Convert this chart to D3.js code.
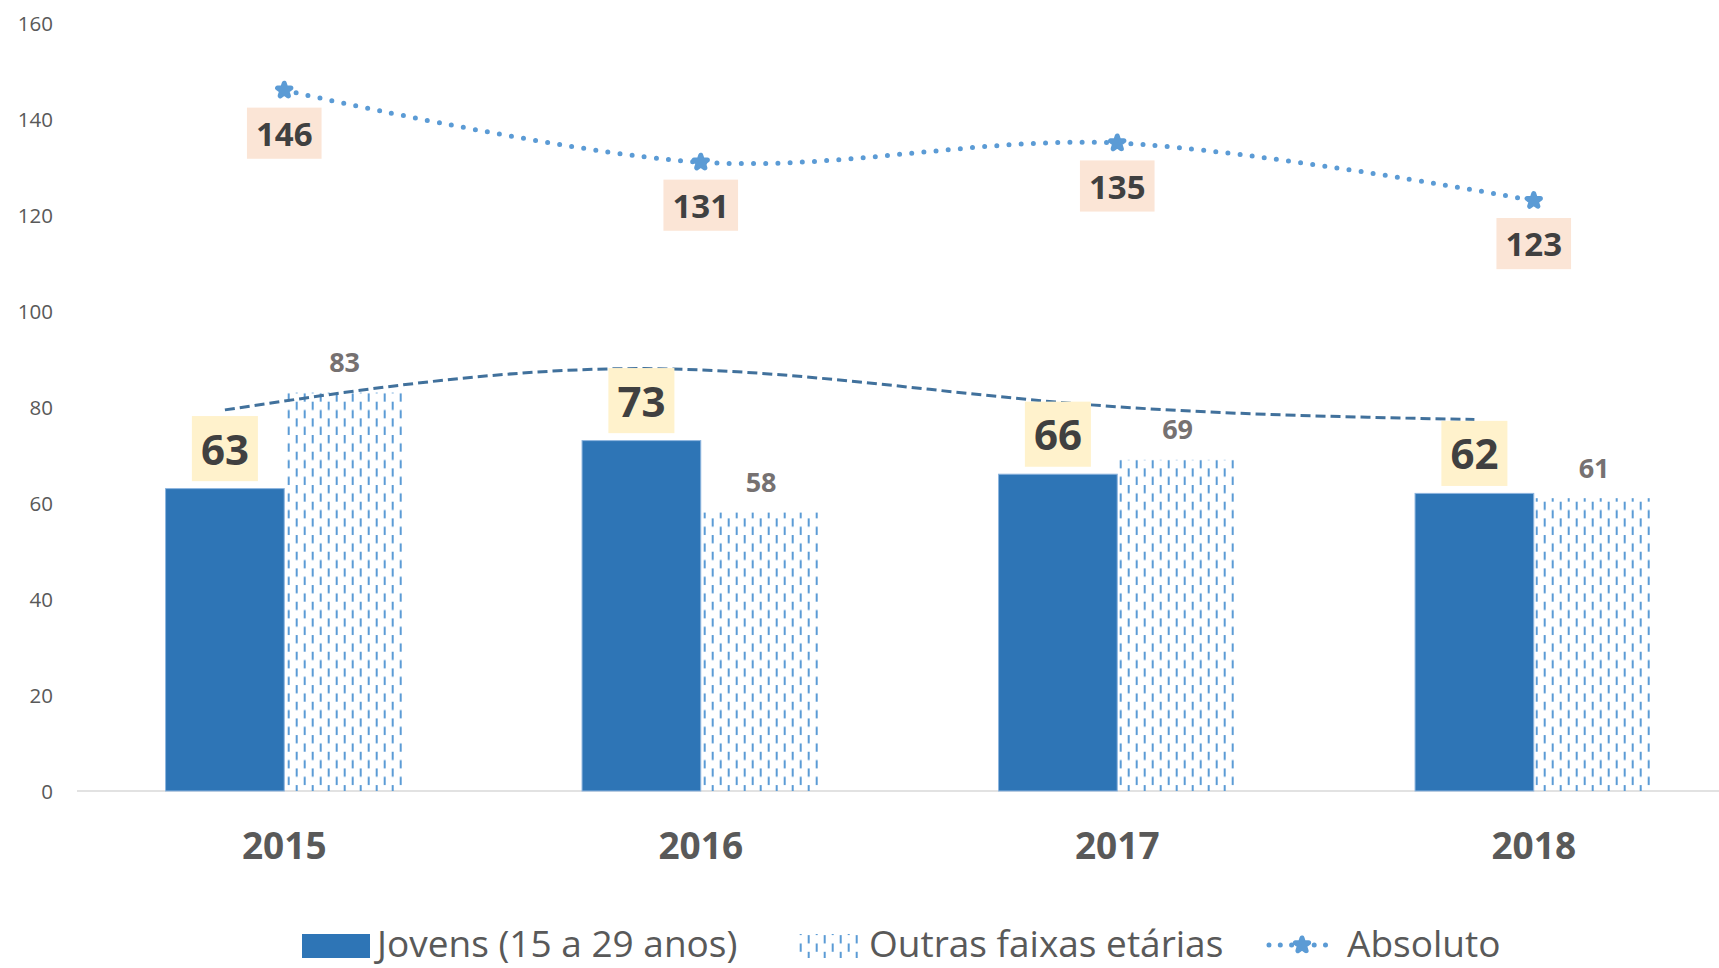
<!DOCTYPE html>
<html>
<head>
<meta charset="utf-8">
<script src="https://cdn.jsdelivr.net/npm/d3@7"></script>
<style>
  html, body { margin: 0; padding: 0; background: #ffffff; }
  svg { display: block; font-family: "Open Sans", "Noto Sans", sans-serif; }
</style>
</head>
<body>
<svg id="chart" width="1719" height="968"></svg>
<script>
// ---------- data ----------
const years = ["2015", "2016", "2017", "2018"];
const jovens = [63, 73, 66, 62];
const outras = [83, 58, 69, 61];
const absoluto = [146, 131, 135, 123];
const tendencia = [79.4, 88, 81, 77.4];
const yTicks = [0, 20, 40, 60, 80, 100, 120, 140, 160];
const seriesNames = ["Jovens (15 a 29 anos)", "Outras faixas etárias", "Absoluto"];

// ---------- setup ----------
const W = 1719, H = 968;
const svg = d3.select("#chart");
const defs = svg.append("defs");

const pat = defs.append("pattern")
  .attr("id", "dashV")
  .attr("patternUnits", "userSpaceOnUse")
  .attr("width", 16).attr("height", 16.67)
  .attr("x", 7.7).attr("y", 1.6);
pat.append("rect").attr("x", 0).attr("y", 0).attr("width", 2).attr("height", 8.3).attr("fill", "#5B9BD5");
pat.append("rect").attr("x", 8).attr("y", 8.33).attr("width", 2).attr("height", 8.3).attr("fill", "#5B9BD5");

const x = d3.scaleBand().domain(years).range([76, 1742]).paddingInner(0).paddingOuter(0);
const y = d3.scaleLinear().domain([0, 160]).range([791, 23]);
const bw = x.bandwidth();
const barW = bw * 0.285;
const cx = d => x(d) + bw / 2;

// ---------- y axis ----------
const yAxis = svg.append("g")
  .attr("transform", "translate(53,0)")
  .call(d3.axisLeft(y).tickValues(yTicks).tickSize(0).tickPadding(0));
yAxis.select(".domain").remove();
yAxis.selectAll("text")
  .attr("fill", "#595959")
  .style("font-family", "'Open Sans', sans-serif")
  .style("font-size", "20.5px")
  .attr("dy", "0.36em");

// ---------- x axis ----------
svg.append("line")
  .attr("x1", 77).attr("x2", W)
  .attr("y1", y(0)).attr("y2", y(0))
  .attr("stroke", "#D9D9D9").attr("stroke-width", 1.5);

const xAxis = svg.append("g")
  .attr("transform", `translate(0,${y(0)})`)
  .call(d3.axisBottom(x).tickSize(0));
xAxis.select(".domain").remove();
xAxis.selectAll("text")
  .attr("y", 68).attr("dy", 0)
  .attr("fill", "#595959")
  .style("font-family", "'Open Sans', sans-serif")
  .style("font-size", "37px")
  .style("font-weight", "700");

// ---------- bars ----------
svg.append("g").selectAll("rect")
  .data(years)
  .join("rect")
  .attr("x", (d) => cx(d) - barW)
  .attr("y", (d, i) => y(jovens[i]))
  .attr("width", barW)
  .attr("height", (d, i) => y(0) - y(jovens[i]))
  .attr("fill", "#2E75B6")
  .attr("stroke", "#8DB4DE")
  .attr("stroke-width", 1);

svg.append("g").selectAll("rect")
  .data(years)
  .join("rect")
  .attr("x", (d) => cx(d) + 1.5)
  .attr("y", (d, i) => y(outras[i]))
  .attr("width", barW - 1)
  .attr("height", (d, i) => y(0) - y(outras[i]))
  .attr("fill", "url(#dashV)");

// ---------- trend (dashed) ----------
svg.append("path")
  .datum(tendencia)
  .attr("d", d3.line()
    .x((d, i) => cx(years[i]) - barW / 2)
    .y(d => y(d))
    .curve(d3.curveNatural))
  .attr("fill", "none")
  .attr("stroke", "#41719C")
  .attr("stroke-width", 3)
  .attr("stroke-dasharray", "10,5");

// ---------- absoluto line ----------
svg.append("path")
  .datum(absoluto)
  .attr("d", d3.line()
    .x((d, i) => cx(years[i]))
    .y(d => y(d))
    .curve(d3.curveCatmullRom))
  .attr("fill", "none")
  .attr("stroke", "#5B9BD5")
  .attr("stroke-width", 5)
  .attr("stroke-linecap", "round")
  .attr("stroke-dasharray", "0,12.2");

const star = d3.symbol().type(d3.symbolStar).size(55);
svg.append("g").selectAll("path")
  .data(absoluto)
  .join("path")
  .attr("d", star)
  .attr("transform", (d, i) => `translate(${cx(years[i])},${y(d)})`)
  .attr("fill", "#5B9BD5")
  .attr("stroke", "#5B9BD5")
  .attr("stroke-width", 5)
  .attr("stroke-linejoin", "round");

// ---------- labels ----------
function boxedLabel(g, text, xc, yc, fs, fill) {
  const t = g.append("text")
    .attr("x", xc)
    .attr("y", yc + fs * 0.714 / 2 + 1)
    .attr("text-anchor", "middle")
    .attr("fill", "#404040")
    .style("font-size", fs + "px")
    .style("font-weight", "700")
    .text(text);
  const tw = t.node().getComputedTextLength();
  const bh = fs * 1.55;
  g.insert("rect", "text")
    .attr("x", xc - tw / 2 - 9)
    .attr("y", yc - bh / 2)
    .attr("width", tw + 18)
    .attr("height", bh)
    .attr("fill", fill);
}

const labJ = svg.append("g");
years.forEach((yr, i) => {
  const g = labJ.append("g");
  boxedLabel(g, jovens[i], cx(yr) - barW / 2, y(jovens[i]) - 40, 42, "#FFF2CC");
});

const labA = svg.append("g");
years.forEach((yr, i) => {
  const g = labA.append("g");
  boxedLabel(g, absoluto[i], cx(yr), y(absoluto[i]) + 43, 33, "#FBE5D6");
});

svg.append("g").selectAll("text")
  .data(years)
  .join("text")
  .attr("x", d => cx(d) + 1.5 + (barW - 1) / 2)
  .attr("y", (d, i) => y(outras[i]) - 30 + 27 * 0.714 / 2)
  .attr("text-anchor", "middle")
  .attr("fill", "#767171")
  .style("font-size", "27px")
  .style("font-weight", "700")
  .text((d, i) => outras[i]);

// ---------- legend ----------
const leg = svg.append("g");
const legFs = 37;
const legBase = 957;
leg.append("rect").attr("x", 302).attr("y", 934).attr("width", 68).attr("height", 24).attr("fill", "#2E75B6");
leg.append("text").attr("x", 377).attr("y", legBase).attr("fill", "#595959")
  .style("font-size", legFs + "px").text(seriesNames[0]);

leg.append("rect").attr("x", 799).attr("y", 934).attr("width", 59).attr("height", 24).attr("fill", "url(#dashV)");
leg.append("text").attr("x", 869).attr("y", legBase).attr("fill", "#595959")
  .style("font-size", legFs + "px").text(seriesNames[1]);

leg.append("line").attr("x1", 1269).attr("x2", 1333).attr("y1", 945).attr("y2", 945)
  .attr("stroke", "#5B9BD5").attr("stroke-width", 5)
  .attr("stroke-linecap", "round").attr("stroke-dasharray", "0,11.3");
leg.append("path").attr("d", star).attr("transform", "translate(1302,945)")
  .attr("fill", "#5B9BD5").attr("stroke", "#5B9BD5").attr("stroke-width", 5).attr("stroke-linejoin", "round");
leg.append("text").attr("x", 1347).attr("y", legBase).attr("fill", "#595959")
  .style("font-size", legFs + "px").text(seriesNames[2]);
</script>
</body>
</html>
